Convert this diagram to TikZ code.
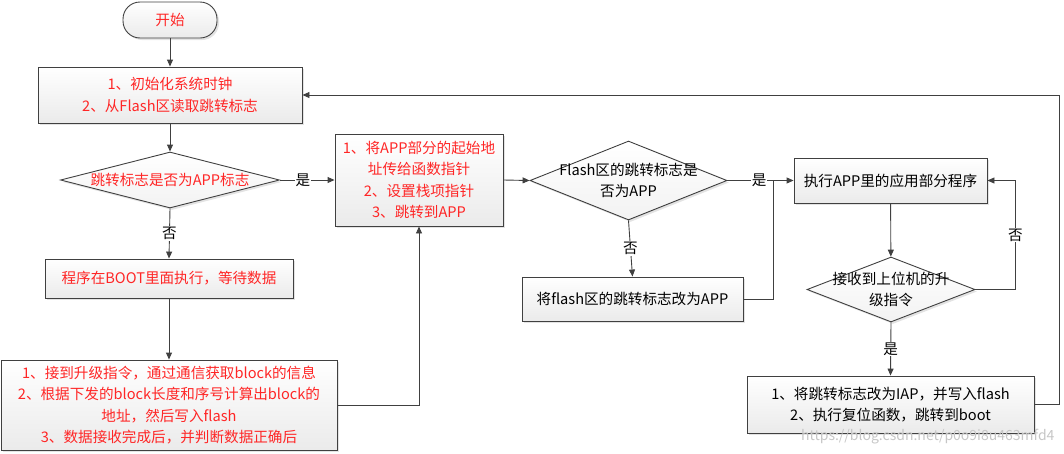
\documentclass[tikz,border=0pt]{standalone}
\usepackage{fontspec}
\setmainfont{Noto Sans CJK SC}
\usetikzlibrary{arrows.meta,shapes.geometric,shadows}
\definecolor{linegray}{HTML}{404040}
\definecolor{txtred}{HTML}{FF2626}
\tikzset{
  base/.style={draw=linegray, line width=0.9pt, top color=white, bottom color=gray!16,
    drop shadow={opacity=0.22, shadow xshift=2pt, shadow yshift=-2pt},
    font=\fontsize{14.6}{21.5}\selectfont, align=center, inner sep=0pt},
  box/.style={base, rectangle},
  term/.style={base, rectangle, rounded corners=17pt},
  dia/.style={base, diamond, bottom color=gray!10},
  dtext/.style={font=\fontsize{14.6}{21.5}\selectfont, align=center},
  lbl/.style={fill=white, inner sep=1pt, font=\fontsize{14.6}{16}\selectfont},
  conn/.style={draw=linegray, line width=0.9pt},
  >={Triangle[length=7pt,width=6pt]}
}
\begin{document}
\begin{tikzpicture}[x=1pt,y=-1pt]
    \useasboundingbox (0,0) rectangle (1064,453);
    % Start und Initialisierung
    \node[term, minimum width=94pt, minimum height=36pt, text=txtred] (start) at (170,20) {开始};
    \node[box, minimum width=264pt, minimum height=56pt, text=txtred] (init) at (170,95)
        {1、初始化系统时钟\\2、从Flash区读取跳转标志};
    \node[dia, minimum width=219pt, minimum height=56pt] (d1) at (170,180) {};
    \node[dtext, text=txtred] (d1t) at (d1) {跳转标志是否为APP标志};

    % BOOT Zweig
    \node[box, minimum width=248pt, minimum height=39pt, text=txtred] (boot) at (169,278.5)
        {程序在BOOT里面执行，等待数据};
    \node[box, minimum width=336pt, minimum height=90pt, text=txtred] (blk) at (169,405)
        {1、接到升级指令，通过通信获取block的信息\\2、根据下发的block长度和序号计算出block的\\地址，然后写入flash\\3、数据接收完成后，并判断数据正确后};

    % Sprung zur APP
    \node[box, minimum width=168pt, minimum height=92pt, text=txtred] (app) at (419,180)
        {1、将APP部分的起始地\\址传给函数指针\\2、设置栈项指针\\3、跳转到APP};
    \node[dia, minimum width=197pt, minimum height=79pt] (d2) at (628.5,180.5) {};
    \node[dtext] (d2t) at (d2) {Flash区的跳转标志是\\否为APP};
    \node[box, minimum width=221pt, minimum height=44pt] (fix) at (632.5,299)
        {将flash区的跳转标志改为APP};
    \coordinate (join) at (773,180.5);

    % APP laeuft
    \node[box, minimum width=193pt, minimum height=45pt] (exec) at (890.5,180.5)
        {执行APP里的应用部分程序};
    \node[dia, minimum width=168pt, minimum height=65pt] (d3) at (891,289.5) {};
    \node[dtext] (d3t) at (d3) {接收到上位机的升\\级指令};
    \node[box, minimum width=287pt, minimum height=57pt] (iap) at (890.5,404.5)
        {1、将跳转标志改为IAP，并写入flash\\2、执行复位函数，跳转到boot};

    % Verbindungspfeile
    \draw[conn, ->] (start) -- (init);
    \draw[conn, ->] (init) -- (d1);
    \draw[conn, ->] (d1.east) -- node[lbl, pos=0.42] {是} (app.west);
    \draw[conn, ->] (d1.south) -- node[lbl] {否} (boot.north);
    \draw[conn, ->] (boot) -- (blk);
    \draw[conn, ->] (blk.east) -| (app.south);
    \draw[conn, ->] (app.east) -- (d2.west);
    \draw[conn, ->] (d2.east) -- node[lbl, pos=0.48] {是} (exec.west);
    \draw[conn, ->] (d2.south) -- node[lbl] {否} (fix.north);
    \draw[conn] (fix.east) -| (join);
    \draw[conn, ->] (exec) -- (d3);
    \draw[conn, ->] (d3.east) -- ++(40,0) |- node[lbl, pos=0.25] {否} (exec.east);
    \draw[conn, ->] (d3.south) -- node[lbl] {是} (iap.north);
    \draw[conn, ->] (iap.east) -- ++(25,0) |- (init.east);

    % Wasserzeichen
    \node[text=gray!45, font=\fontsize{14}{15}\selectfont, anchor=east] (wm) at (1058,437)
        {https://blog.csdn.net/p0o9i8u463mfd4};
\end{tikzpicture}
\end{document}
